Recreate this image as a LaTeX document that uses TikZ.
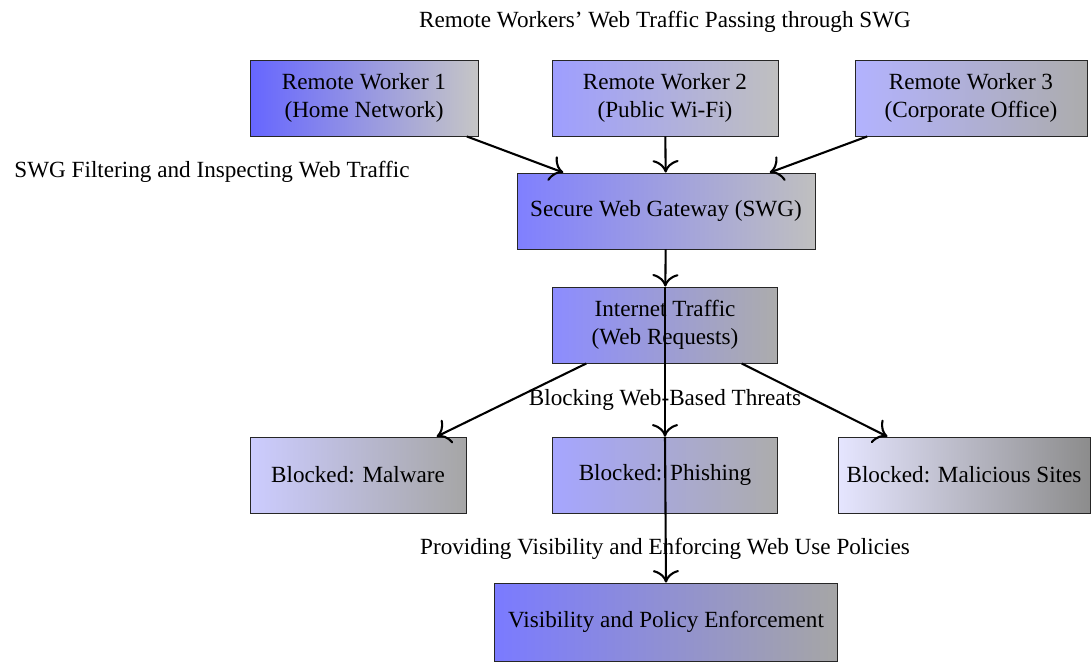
\documentclass[tikz,border=0pt]{standalone}
\usepackage{fontspec}
\setmainfont{Liberation Serif}
\usetikzlibrary{arrows.meta}
\newdimen\pxu
\pxu=0.4316pt
\tikzset{
  box/.style={draw=black!85, rectangle, align=center, minimum height=76\pxu, inner sep=2pt, font=\fontsize{10}{12}\selectfont},
  lbl/.style={font=\fontsize{10}{12}\selectfont, inner sep=0pt},
  flow/.style={-{To[scale=1.5]}, line width=0.9pt}
}
\begin{document}
\begin{tikzpicture}[x=0.4316pt, y=-0.4316pt]
\useasboundingbox (0,0) rectangle (1091,664);

% sources
\node[box, minimum width=228\pxu, left color=blue!60, right color=gray!45] (rw1) at (364,98) {Remote Worker 1\\(Home Network)};
\node[box, minimum width=226\pxu, left color=blue!38, right color=gray!50] (rw2) at (665,98) {Remote Worker 2\\(Public Wi-Fi)};
\node[box, minimum width=232\pxu, left color=blue!30, right color=gray!65] (rw3) at (971,98) {Remote Worker 3\\(Corporate Office)};

% gateway and traffic
\node[box, minimum width=298\pxu, left color=blue!50, right color=gray!50] (swg) at (666,211) {Secure Web Gateway (SWG)};
\node[box, minimum width=225\pxu, left color=blue!45, right color=gray!65] (net) at (665,325) {Internet Traffic\\(Web Requests)};

% blocked categories
\node[box, minimum width=216\pxu, left color=blue!20, right color=gray!70] (malw) at (358,475) {Blocked: Malware};
\node[box, minimum width=225\pxu, left color=blue!35, right color=gray!65] (phish) at (665,475) {Blocked: Phishing};
\node[box, minimum width=252\pxu, left color=blue!10, right color=gray!90] (malic) at (964,475) {Blocked: Malicious Sites};

% outcome
\node[box, minimum width=343\pxu, minimum height=78\pxu, left color=blue!52, right color=gray!70] (vis) at (666,622) {Visibility and Policy Enforcement};

% captions
\node[lbl] (t1) at (665,22) {Remote Workers’ Web Traffic Passing through SWG};
\node[lbl] (t2) at (212,172) {SWG Filtering and Inspecting Web Traffic};
\node[lbl] (t3) at (665,400) {Blocking Web-Based Threats};
\node[lbl] (t4) at (665,549) {Providing Visibility and Enforcing Web Use Policies};

% connectors
\draw[flow] (rw1) -- (swg);
\draw[flow] (rw2) -- (swg);
\draw[flow] (rw3) -- (swg);
\draw[flow] (swg) -- (net);
\draw[flow] (net) -- (malw);
\draw[flow] (net.north) -- (phish.north);
\draw[flow] (net) -- (malic);
\draw[flow] (phish.north) -- (vis.north);
\end{tikzpicture}
\end{document}
